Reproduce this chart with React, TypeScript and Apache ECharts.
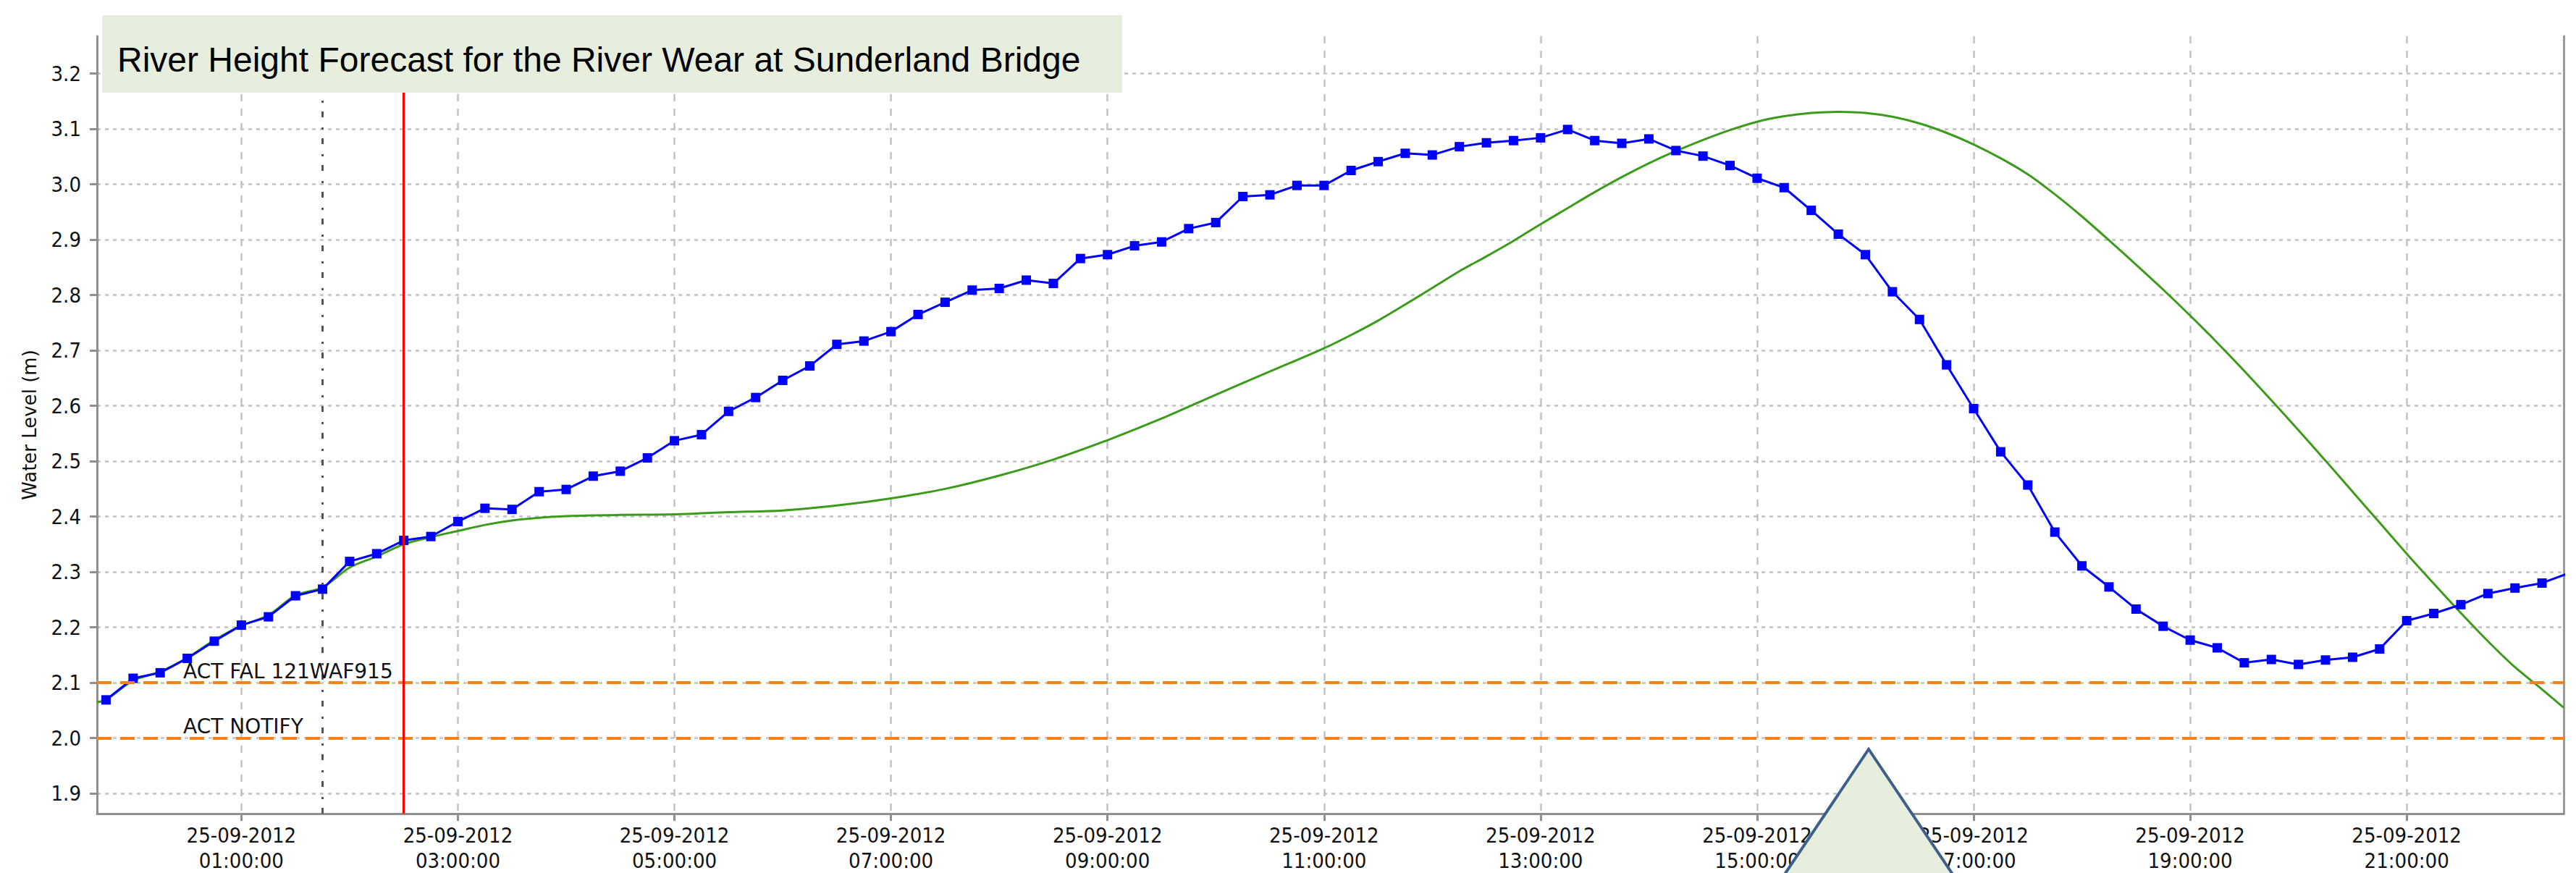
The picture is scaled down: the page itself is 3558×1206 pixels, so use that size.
import React, { useEffect, useRef } from "react";
import * as echarts from "echarts";

// Hours relative to 25-09-2012 00:00
const AXIS_MIN_H = -1 / 3; // 24-09-2012 23:40
const AXIS_MAX_H = 22.45; // 25-09-2012 ~22:27
const OBS_START_H = -0.25; // first observation 23:45, every 15 minutes
const OBS_STEP_H = 0.25;

const obsLevels = [
  2.069, 2.108, 2.118, 2.144, 2.175, 2.204, 2.219, 2.257, 2.269, 2.319, 2.333, 2.357,
  2.364, 2.391, 2.415, 2.413, 2.445, 2.449, 2.473, 2.482, 2.506, 2.537, 2.548, 2.59,
  2.615, 2.646, 2.672, 2.711, 2.717, 2.734, 2.765, 2.787, 2.809, 2.812, 2.827, 2.821,
  2.866, 2.873, 2.889, 2.896, 2.92, 2.931, 2.978, 2.981, 2.998, 2.998, 3.025, 3.041,
  3.056, 3.053, 3.068, 3.075, 3.079, 3.084, 3.099, 3.079, 3.074, 3.082, 3.061, 3.051,
  3.034, 3.011, 2.994, 2.953, 2.91, 2.873, 2.806, 2.756, 2.674, 2.595, 2.517, 2.457,
  2.372, 2.311, 2.273, 2.233, 2.202, 2.177, 2.163, 2.136, 2.142, 2.133, 2.141, 2.146,
  2.161, 2.212, 2.225, 2.241, 2.261, 2.271, 2.28, 2.298,
];

const fcHours = [
  -0.333, -0.25, 0, 0.25, 0.5, 0.75, 1.0, 1.25, 1.5, 1.75, 2.0, 2.25, 2.5, 2.75, 3.0,
  3.25, 3.5, 3.75, 4.0, 4.5, 5.0, 5.5, 6.0, 6.5, 7.0, 7.5, 8.0, 8.5, 9.0, 9.5, 10.0,
  10.5, 11.0, 11.25, 11.5, 11.75, 12.0, 12.25, 12.5, 12.75, 13.0, 13.25, 13.5, 13.75,
  14.0, 14.25, 14.5, 14.75, 15.0, 15.25, 15.5, 15.75, 16.0, 16.25, 16.5, 16.75, 17.0,
  17.25, 17.5, 17.75, 18.0, 18.25, 18.5, 18.75, 19.0, 19.25, 19.5, 19.75, 20.0, 20.25,
  20.5, 20.75, 21.0, 21.25, 21.5, 21.75, 22.0, 22.25, 22.45,
];
const fcLevels = [
  2.065, 2.069, 2.104, 2.12, 2.145, 2.177, 2.203, 2.222, 2.258, 2.272, 2.308, 2.328,
  2.35, 2.363, 2.374, 2.385, 2.393, 2.398, 2.401, 2.403, 2.404, 2.408, 2.411, 2.42,
  2.433, 2.45, 2.474, 2.503, 2.538, 2.577, 2.62, 2.662, 2.704, 2.728, 2.754, 2.783,
  2.813, 2.843, 2.87, 2.898, 2.928, 2.957, 2.986, 3.013, 3.038, 3.06, 3.08, 3.098,
  3.113, 3.123, 3.129, 3.131, 3.129, 3.122, 3.11, 3.093, 3.072, 3.047, 3.018, 2.982,
  2.942, 2.899, 2.855, 2.81, 2.763, 2.714, 2.663, 2.61, 2.556, 2.501, 2.445, 2.389,
  2.333, 2.279, 2.226, 2.175, 2.128, 2.088, 2.055,
];

const xTickHours = [1, 3, 5, 7, 9, 11, 13, 15, 17, 19, 21];
const yTickValues = [1.9, 2.0, 2.1, 2.2, 2.3, 2.4, 2.5, 2.6, 2.7, 2.8, 2.9, 3.0, 3.1, 3.2];
const Y_MIN = 1.8636;
const Y_MAX = 3.2675;

const thresholds = [
  { name: "ACT FAL 121WAF915", value: 2.1 },
  { name: "ACT NOTIFY", value: 2.0 },
];
const referenceTimeH = 1.75; // dotted line 01:45
const nowTimeH = 2.5; // red line 02:30

const TITLE = "River Height Forecast for the River Wear at Sunderland Bridge";
const DATE_LABEL = "25-09-2012";

const condFont = "'DejaVu Sans Condensed', 'Liberation Sans Narrow', 'DejaVu Sans', sans-serif";
const plainFont = "'DejaVu Sans', sans-serif";

export default function App() {
  const ref = useRef<HTMLDivElement>(null);

  useEffect(() => {
    if (!ref.current) return;
    const chart = echarts.init(ref.current, undefined, { renderer: "svg" });

    const obsData = obsLevels.map((v, i) => [OBS_START_H + i * OBS_STEP_H, v]);
    const fcData = fcHours.map((h, i) => [h, fcLevels[i]]);
    const pad = (n: number) => (n < 10 ? "0" + n : "" + n);

    chart.setOption({
      animation: false,
      grid: { left: 134, right: 17, top: 50, bottom: 74, containLabel: false },
      xAxis: {
        type: "value",
        min: AXIS_MIN_H,
        max: AXIS_MAX_H,
        axisLine: { show: true, onZero: false, lineStyle: { color: "#8f8f8f", width: 3 } },
        axisTick: {
          show: true,
          customValues: xTickHours,
          length: 10,
          lineStyle: { color: "#8f8f8f", width: 3 },
        },
        axisLabel: {
          customValues: xTickHours,
          formatter: (v: number) => `${DATE_LABEL}\n${pad(Math.round(v))}:00:00`,
          fontFamily: condFont,
          fontSize: 29,
          lineHeight: 35,
          color: "#111",
          margin: 12,
        },
        splitLine: { show: true, lineStyle: { color: "#c2c2c2", width: 2.5, type: [10, 10] } },
      },
      yAxis: [
        {
          type: "value",
          min: Y_MIN,
          max: Y_MAX,
          name: "Water Level (m)",
          nameLocation: "middle",
          nameGap: 80,
          nameTextStyle: { fontFamily: plainFont, fontSize: 26, color: "#111" },
          axisLine: { show: true, onZero: false, lineStyle: { color: "#8f8f8f", width: 3 } },
          axisTick: {
            show: true,
            customValues: yTickValues,
            length: 10,
            lineStyle: { color: "#8f8f8f", width: 3 },
          },
          axisLabel: {
            customValues: yTickValues,
            formatter: (v: number) => v.toFixed(1),
            fontFamily: condFont,
            fontSize: 29,
            color: "#111",
            margin: 22,
          },
          splitLine: { show: true, lineStyle: { color: "#c2c2c2", width: 2.5, type: [5, 6] } },
        },
        {
          type: "value",
          position: "right",
          min: Y_MIN,
          max: Y_MAX,
          axisLine: { show: true, onZero: false, lineStyle: { color: "#9a9a9a", width: 3 } },
          axisTick: { show: false },
          axisLabel: { show: false },
          splitLine: { show: false },
        },
      ],
      series: [
        {
          name: "Forecast",
          type: "line",
          data: fcData,
          smooth: 0.3,
          showSymbol: false,
          symbol: "none",
          lineStyle: { color: "#3d9b1c", width: 3 },
          z: 3,
          markLine: {
            silent: true,
            symbol: ["none", "none"],
            animation: false,
            data: thresholds.map((t) => ({
              yAxis: t.value,
              lineStyle: { color: "#f7821b", width: 4, type: [20, 12] },
              label: {
                show: true,
                formatter: t.name,
                position: "insideStartTop",
                distance: [119, 2],
                fontFamily: plainFont,
                fontSize: 28,
                color: "#111",
              },
            })),
          },
        },
        {
          name: "Observed",
          type: "line",
          data: obsData,
          symbol: "rect",
          symbolSize: 13,
          itemStyle: { color: "#0000ff" },
          lineStyle: { color: "#0000ff", width: 3 },
          z: 4,
          markLine: {
            silent: true,
            symbol: ["none", "none"],
            animation: false,
            label: { show: false },
            data: [
              {
                xAxis: referenceTimeH,
                lineStyle: { color: "#555555", width: 3, type: [8, 12, 3, 14] },
              },
              {
                xAxis: nowTimeH,
                lineStyle: { color: "#ff0000", width: 3, type: "solid" },
              },
            ],
          },
        },
      ],
      graphic: [
        {
          type: "rect",
          z: 100,
          shape: { x: 141, y: 21, width: 1409, height: 107 },
          style: { fill: "#e8eedd" },
        },
        {
          type: "text",
          z: 101,
          x: 162,
          y: 82,
          style: {
            text: TITLE,
            fontFamily: "'Liberation Sans', Arial, sans-serif",
            fontSize: 48,
            fill: "#000",
            align: "left",
            verticalAlign: "middle",
          },
        },
        {
          type: "polygon",
          z: 100,
          shape: {
            points: [
              [2450, 1230],
              [2581, 1035],
              [2712, 1230],
            ],
          },
          style: { fill: "#e8eedd", stroke: "#3d5f8a", lineWidth: 4 },
        },
      ],
    });

    return () => chart.dispose();
  }, []);

  return (
    <div
      ref={ref}
      style={{ position: "fixed", left: 0, top: 0, width: 3558, height: 1206, background: "#fff" }}
    />
  );
}
